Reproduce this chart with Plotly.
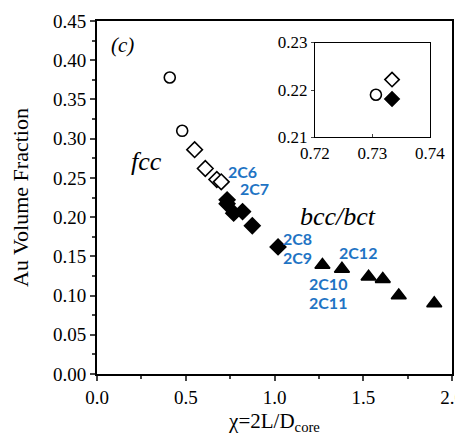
import plotly.graph_objects as go

# Main panel data
open_circle_x = [0.41, 0.48]
open_circle_y = [0.378, 0.310]
open_diamond_x = [0.55, 0.61, 0.675, 0.70]
open_diamond_y = [0.286, 0.262, 0.248, 0.245]
filled_circle_x = [0.73]
filled_circle_y = [0.219]
filled_diamond_x = [0.733, 0.733, 0.77, 0.82, 0.875, 1.02]
filled_diamond_y = [0.222, 0.217, 0.205, 0.207, 0.189, 0.162]
triangle_x = [1.27, 1.38, 1.53, 1.61, 1.70, 1.90]
triangle_y = [0.139, 0.134, 0.124, 0.121, 0.100, 0.090]

# Inset data
inset_circle_x = [0.7306]
inset_circle_y = [0.219]
inset_open_diamond_x = [0.7334]
inset_open_diamond_y = [0.2222]
inset_filled_diamond_x = [0.7334]
inset_filled_diamond_y = [0.2181]

# Sample labels
label_text = ["2C6", "2C7", "2C8", "2C9", "2C12", "2C10", "2C11"]
label_x = [0.817, 0.89, 1.127, 1.127, 1.47, 1.30, 1.30]
label_y = [0.258, 0.237, 0.173, 0.148, 0.155, 0.116, 0.091]

serif = "Liberation Serif"
fig = go.Figure()

def mk(x, y, symbol, size, filled, xa="x", ya="y"):
    fig.add_trace(go.Scatter(
        x=x, y=y, mode="markers", xaxis=xa, yaxis=ya, showlegend=False,
        marker=dict(symbol=symbol, size=size,
                    color="black" if filled else "white",
                    line=dict(color="black", width=1.6))))

mk(open_circle_x, open_circle_y, "circle", 11, False)
mk(open_diamond_x, open_diamond_y, "diamond", 12, False)
mk(filled_diamond_x, filled_diamond_y, "diamond", 12, True)
mk(filled_circle_x, filled_circle_y, "circle", 11, True)
mk(triangle_x, triangle_y, "triangle-up", 13, True)

mk(inset_circle_x, inset_circle_y, "circle", 11, False, "x2", "y2")
mk(inset_open_diamond_x, inset_open_diamond_y, "diamond", 11, False, "x2", "y2")
mk(inset_filled_diamond_x, inset_filled_diamond_y, "diamond", 11, True, "x2", "y2")

annotations = []
for t, x, y in zip(label_text, label_x, label_y):
    annotations.append(dict(x=x, y=y, xref="x", yref="y", text="<b>" + t + "</b>",
                            showarrow=False, font=dict(family="Lato", size=16, color="#1f74c4")))
annotations += [
    dict(x=0.146, y=0.419, xref="x", yref="y", text="<i>(c)</i>", showarrow=False,
         font=dict(family=serif, size=21, color="black")),
    dict(x=0.28, y=0.271, xref="x", yref="y", text="<i>fcc</i>", showarrow=False,
         font=dict(family=serif, size=26, color="black")),
    dict(x=1.36, y=0.201, xref="x", yref="y", text="<i>bcc/bct</i>", showarrow=False,
         font=dict(family=serif, size=26, color="black")),
]

fig.update_layout(
    width=462, height=427,
    margin=dict(l=89, r=3, t=12, b=57),
    paper_bgcolor="white", plot_bgcolor="white",
    font=dict(family=serif, size=19, color="black"),
    annotations=annotations,
    xaxis=dict(range=[0, 2.0], tickvals=[0, 0.5, 1.0, 1.5, 2.0],
               ticktext=["0.0", "0.5", "1.0", "1.5", "2.0"],
               tickfont=dict(family=serif, size=19),
               ticks="outside", ticklen=5, tickwidth=1.5,
               minor=dict(tickvals=[0.25, 0.75, 1.25, 1.75], ticks="outside", ticklen=3),
               showline=True, linecolor="black", linewidth=2, mirror=True,
               showgrid=False, zeroline=False,
               title=dict(text="χ=2L/D<sub>core</sub>", font=dict(family=serif, size=21), standoff=10)),
    yaxis=dict(range=[0, 0.45], tickvals=[0, 0.05, 0.1, 0.15, 0.2, 0.25, 0.3, 0.35, 0.4, 0.45],
               ticktext=["0.00", "0.05", "0.10", "0.15", "0.20", "0.25", "0.30", "0.35", "0.40", "0.45"],
               tickfont=dict(family=serif, size=19),
               ticks="outside", ticklen=5, tickwidth=1.5,
               minor=dict(dtick=0.025, ticks="outside", ticklen=3),
               showline=True, linecolor="black", linewidth=2, mirror=True,
               showgrid=False, zeroline=False,
               title=dict(text="Au Volume Fraction", font=dict(family=serif, size=22), standoff=18)),
    xaxis2=dict(domain=[0.614, 0.938], anchor="y2", range=[0.72, 0.74],
                tickvals=[0.72, 0.73, 0.74], ticks="inside", ticklen=3,
                showline=True, linecolor="black", linewidth=1.3, mirror=True,
                showgrid=False, zeroline=False, tickfont=dict(family=serif, size=17)),
    yaxis2=dict(domain=[0.670, 0.939], anchor="x2", range=[0.21, 0.23],
                tickvals=[0.21, 0.22, 0.23], ticks="outside", ticklen=3,
                showline=True, linecolor="black", linewidth=1.3, mirror=True,
                showgrid=False, zeroline=False, tickfont=dict(family=serif, size=17)),
)

fig.write_html("out.html", config={"displayModeBar": False})
